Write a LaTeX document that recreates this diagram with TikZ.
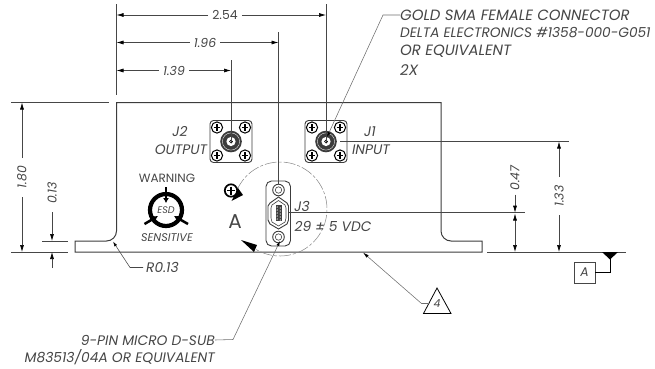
\documentclass[tikz,border=0pt]{standalone}
\usepackage{fontspec}
\setmainfont{Poppins}
\usetikzlibrary{arrows.meta}
\definecolor{ink}{RGB}{70,70,70}
\definecolor{edge}{RGB}{60,60,60}
\definecolor{thinl}{RGB}{110,110,110}
\tikzset{
  part/.style={draw=edge,line width=0.9pt},
  dimline/.style={draw=ink,line width=0.7pt},
  ext/.style={draw=ink,line width=0.7pt},
  leader/.style={draw=thinl,line width=0.55pt},
  tipped/.style={-{Latex[length=7pt,width=4pt,black]}},
  lbl/.style={inner sep=0pt,text=ink,font=\fontsize{12.4}{14}\selectfont\itshape},
  big/.style={lbl,font=\fontsize{13.8}{16}\selectfont\itshape},
  note/.style={inner sep=0pt,text=ink,anchor=west,font=\fontsize{14.9}{16}\selectfont\itshape},
  screwhead/.style={draw=black,line width=1pt,fill=white},
}
\newcommand{\screw}[2]{%
  \draw[screwhead] (#1,#2) circle (5.6);
  \draw[black,line width=1.2pt] (#1-3.4,#2) -- (#1+3.4,#2) (#1,#2-3.4) -- (#1,#2+3.4);}
\newcommand{\sma}[2]{%
  \draw[part,rounded corners=3.5pt] (#1-21,#2-21) rectangle (#1+21,#2+21);
  \screw{#1-14}{#2-14}\screw{#1+14}{#2-14}\screw{#1-14}{#2+14}\screw{#1+14}{#2+14}
  \fill[edge] (#1,#2) circle (10.8);
  \draw[white,line width=0.35pt] (#1,#2) circle (8.6);
  \fill[white] (#1,#2) circle (4.6);
  \draw[black,line width=0.7pt] (#1,#2) circle (1.5);}
\begin{document}
\begin{tikzpicture}[x=1pt,y=-1pt]
\useasboundingbox (0,0) rectangle (655,368);
% key points
\coordinate (j2) at (231,141.5);
\coordinate (j1) at (326,141.5);
\coordinate (j3top) at (278.5,184);
\coordinate (j3r) at (289,212.7);

% bracket outline
\draw[part,line width=1pt] (116.5,102.5) -- (441,102.5) -- (441,231)
   arc[start angle=180,end angle=90,radius=10] -- (482,241) -- (482,252) -- (75,252) -- (75,241) -- (106.5,241)
   arc[start angle=90,end angle=0,radius=10] -- cycle;

% connectors
\sma{231}{141.5}
\sma{326}{141.5}

% J3
\draw[part,rounded corners=5.5pt] (266,181) rectangle (290.5,246);
\draw[part] (270,203) -- (278.5,197) -- (287,203) -- (288.5,206) -- (288.5,220) -- (287,224) -- (278.5,229) -- (270,224) -- (268,220) -- (268,206) -- cycle;
\draw[part,line width=0.6pt] (272,205) -- (278.5,200.5) -- (285,205) -- (286,208) -- (286,218) -- (285,222) -- (278.5,226) -- (272,222) -- (271,218) -- (271,208) -- cycle;
\fill[black!75] (275.5,205) rectangle (281.5,221);
\foreach \yy in {207,210,213,216,219}{\fill[white] (277.2,\yy) circle (0.7);\fill[white] (280.2,\yy+1) circle (0.6);}
\foreach \yy in {190,237}{
  \draw[part] (278.5,\yy) circle (5.8);
  \draw[part,line width=0.6pt] (278.5,\yy) circle (3.2);}

% detail circle, open on the left where the section letter sits
\draw[draw=thinl!85,line width=0.5pt,dash pattern=on 12pt off 2pt on 3pt off 2pt]
  plot[smooth,samples=80,domain=205:481] ({280+47*cos(\x)},{209+47*sin(\x)});
\fill[black] (231.5,201) -- (243,195) -- (238,188) -- cycle;
\fill[black] (241,240) -- (257,245) -- (254,252) -- cycle;
\node[inner sep=0pt,text=ink,font=\fontsize{20}{22}\selectfont] (secA) at (235,222) {A};

% small ground screw
\draw[black,line width=1.7pt,fill=white] (231,190.5) circle (6.2);
\draw[black,line width=1.1pt] (227,190.5) -- (235,190.5) (231,186.5) -- (231,194.5);

% ESD symbol
\draw[black,line width=4.2pt] (166,210) circle (16);
\draw[black,line width=2.5pt,-{Latex[length=5pt,width=6pt]}] (166,187) -- (166,203);
\draw[black,line width=2.5pt,-{Latex[length=5pt,width=6pt]}] (144.5,224) -- (158,216);
\draw[black,line width=2.5pt,-{Latex[length=5pt,width=6pt]}] (188,224) -- (174,216);
\node[lbl,font=\fontsize{9.6}{10}\selectfont\itshape,fill=white,inner sep=0.5pt] (esd) at (166,210.5) {ESD};
\node[lbl,font=\fontsize{12}{14}\selectfont] (warn) at (167,178.5) {WARNING};
\node[lbl,font=\fontsize{11.2}{13}\selectfont\itshape] (sens) at (167,237.5) {SENSITIVE};

% connector labels
\node[big] (j2a) at (180,132) {J2};
\node[big] (j2b) at (181,149.5) {OUTPUT};
\node[big] (j1a) at (370,132) {J1};
\node[big] (j1b) at (371,150) {INPUT};
\node[big] (j3a) at (302,206) {J3};
\node[big] (j3b) at (333,226.5) {29 ± 5 VDC};

% top dimensions
\draw[ext] (116.5,4) -- (116.5,95);
\draw[ext] (231,60) -- (j2);
\draw[ext] (278.5,32) -- (j3top);
\draw[ext] (326,4) -- (j1);
\node[lbl] (d254) at (225,15) {\upshape 2.54};
\node[lbl] (d196) at (205,42.5) {1.96};
\node[lbl] (d139) at (174,70.5) {1.39};
\draw[dimline,tipped] (d254.west)++(-4,0) -- (116.5,15);
\draw[dimline,tipped] (d254.east)++(4,0) -- (326,15);
\draw[dimline,tipped] (d196.west)++(-4,0) -- (116.5,42.5);
\draw[dimline,tipped] (d196.east)++(4,0) -- (278.5,42.5);
\draw[dimline,tipped] (d139.west)++(-4,0) -- (116.5,70.5);
\draw[dimline,tipped] (d139.east)++(4,0) -- (231,70.5);

% left dimensions
\draw[ext] (11,102.5) -- (109,102.5);
\draw[ext] (11,252) -- (68,252);
\draw[ext] (42,241) -- (68,241);
\node[lbl,rotate=90] (d180) at (22,177) {1.80};
\node[lbl,rotate=90] (d013) at (52,193) {0.13};
\draw[dimline,tipped] (22,158) -- (22,102.5);
\draw[dimline,tipped] (22,197) -- (22,252);
\draw[dimline,tipped] (52,212) -- (52,241);
\draw[dimline,tipped] (52,268) -- (52,252);

% right dimensions
\draw[ext] (340,141.5) -- (569,141.5);
\draw[ext] (j3r) -- (525,212.7);
\draw[ext] (487,252) -- (626,252);
\node[lbl,rotate=90] (d133) at (559,196) {1.33};
\node[lbl,rotate=90] (d047) at (515,178) {0.47};
\draw[dimline,tipped] (559,177) -- (559,141.5);
\draw[dimline,tipped] (559,215) -- (559,252);
\draw[dimline,tipped] (d047.west)++(0,4) -- (515,212.7);
\draw[dimline,tipped] (515,220) -- (515,252);
\draw[dimline,-{Latex[length=7pt,width=4pt,black]}] (515,222) -- (515,213.5);

% datum
\fill[black] (602,252) -- (618,252) -- (610,259.5) -- cycle;
\node[draw=ink,line width=0.7pt,minimum width=21pt,minimum height=21pt,inner sep=0pt,text=ink,font=\fontsize{12.5}{14}\selectfont\itshape] (datum) at (584.5,272.5) {A};
\coordinate (dtip) at (610,258);
\draw[black,line width=0.7pt] (dtip) |- (datum.east);

% radius leader
\node[big,anchor=west] (r013) at (146,267.5) {R0.13};
\draw[leader,draw=ink,-{Latex[length=5pt,width=3pt,black]}] (r013.west) ++(-3,0) -- (130,267.5) -- (113,241.5);

% flag note 4
\draw[draw=black,line width=0.8pt] (437,288) -- (451,313.5) -- (423.5,313.5) -- cycle;
\node[lbl,font=\fontsize{11}{12}\selectfont\itshape] (flag) at (437,304) {4};
\coordinate (ftip) at (363,252.5);
\draw[leader,-{Latex[length=6pt,width=3.2pt,black]}] (429,303.5) -- (421.5,303.5) -- (ftip);

% gold SMA note
\node[note] (n1) at (400,15) {GOLD SMA FEMALE CONNECTOR};
\node[note,font=\fontsize{13.7}{16}\selectfont\itshape] (n2) at (400,33) {DELTA ELECTRONICS \#1358-000-G051};
\node[note] (n3) at (400,51) {OR EQUIVALENT};
\node[note] (n4) at (400,70) {2X};
\coordinate (gtip) at (327,137);
\draw[leader,-{Latex[length=5pt,width=3pt,black]}] (n1.west) -- (383,15) -- (gtip);

% D-sub note
\node[big,anchor=east] (s1) at (215,340) {9-PIN MICRO D-SUB};
\node[big,anchor=east] (s2) at (215,357) {M83513/04A OR EQUIVALENT};
\draw[leader,-{Latex[length=5pt,width=3pt,black]}] (s1.east) -- (233,339.5) -- (280,241);
\end{tikzpicture}
\end{document}
